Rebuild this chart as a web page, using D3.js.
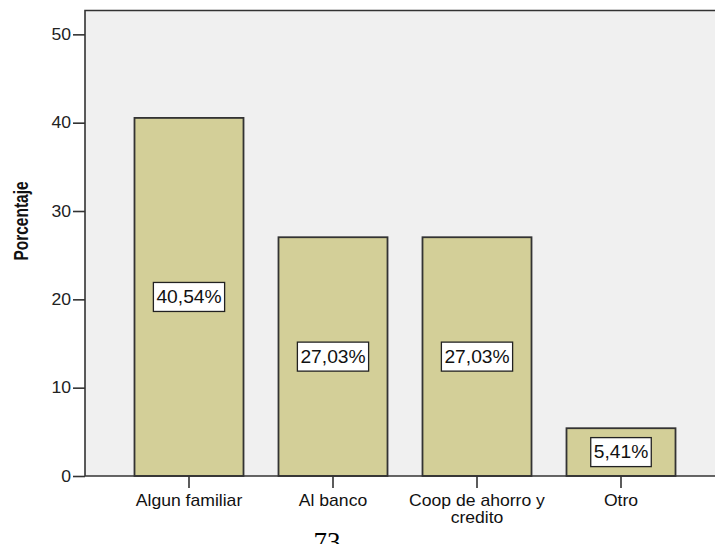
<!DOCTYPE html>
<html>
<head>
<meta charset="utf-8">
<script src="https://cdn.jsdelivr.net/npm/d3@7"></script>
<style>
	body { margin: 0; background: #fff; }
	svg { display: block; }
</style>
</head>
<body>
<div class="chart"></div>
<script>
// bar chart - porcentaje por destino
const categories = ['Algun familiar', 'Al banco', 'Coop de ahorro y credito', 'Otro']
const categoryLines = [['Algun familiar'], ['Al banco'], ['Coop de ahorro y', 'credito'], ['Otro']]
const percentages = [40.54, 27.03, 27.03, 5.41]
const valueLabels = ['40,54%', '27,03%', '27,03%', '5,41%']
const yTicks = [0, 10, 20, 30, 40, 50]

const data = categories.map((c, i) => ({ cat: c, lines: categoryLines[i], value: percentages[i], label: valueLabels[i] }))

const W = 715
const H = 544
const plotLeft = 85
const plotTop = 10.5
const plotBottom = 476
const stretch = 1.1 // the text in the picture is a bit wider than normal

const svg = d3.select('.chart')
	.append('svg')
	.attr('width', W)
	.attr('height', H)

const xScale = d3.scaleBand()
	.domain(categories)
	.range([117, 693])
	.paddingInner(0.243)
	.paddingOuter(0.1215)

const yScale = d3.scaleLinear()
	.domain([0, 52.7])
	.range([plotBottom, plotTop])

// plot background
svg.append('rect')
	.attr('x', plotLeft)
	.attr('y', plotTop)
	.attr('width', W - plotLeft + 10)
	.attr('height', plotBottom - plotTop)
	.attr('fill', '#f0f0f0')

// bars
svg.append('g').selectAll('rect')
	.data(data)
	.enter()
	.append('rect')
	.attr('x', d => xScale(d.cat))
	.attr('y', d => yScale(d.value))
	.attr('width', xScale.bandwidth())
	.attr('height', d => yScale(0) - yScale(d.value))
	.attr('fill', '#d3cf98')
	.attr('stroke', '#333')
	.attr('stroke-width', 1.8)

// frame (left + top)
svg.append('path')
	.attr('d', `M${plotLeft},${plotBottom}V${plotTop}H${W + 5}`)
	.attr('fill', 'none')
	.attr('stroke', '#333')
	.attr('stroke-width', 1.6)

// y axis
const yAxis = d3.axisLeft(yScale)
	.tickValues(yTicks)
	.tickSize(12)
	.tickPadding(3)

const gy = svg.append('g')
	.attr('transform', `translate(${plotLeft},0)`)
	.call(yAxis)
gy.select('.domain').remove()
gy.selectAll('line').attr('stroke', '#333').attr('stroke-width', 1.6)
gy.selectAll('text')
	.attr('x', -14 / stretch)
	.attr('transform', `scale(${stretch},1)`)
	.attr('font-family', 'Liberation Sans, Arial, sans-serif')
	.attr('font-size', '16px')
	.attr('fill', '#222')

// x axis
const xAxis = d3.axisBottom(xScale)
	.tickSize(12)
	.tickFormat('')

const gx = svg.append('g')
	.attr('transform', `translate(0,${plotBottom})`)
	.call(xAxis)
gx.select('.domain').remove()
gx.selectAll('line').attr('stroke', '#333').attr('stroke-width', 1.6)

svg.append('line')
	.attr('x1', plotLeft)
	.attr('x2', W + 5)
	.attr('y1', plotBottom)
	.attr('y2', plotBottom)
	.attr('stroke', '#333')
	.attr('stroke-width', 1.6)

// category labels
gx.selectAll('.tick').each(function (d, i) {
	const t = d3.select(this).append('text')
		.attr('transform', `scale(${stretch},1)`)
		.attr('text-anchor', 'middle')
		.attr('font-family', 'Liberation Sans, Arial, sans-serif')
		.attr('font-size', '16px')
		.attr('fill', '#111')
	data[i].lines.forEach((line, j) => {
		t.append('tspan')
			.attr('x', 0)
			.attr('y', 30 + j * 17)
			.text(line)
	})
})

// value labels in white boxes
const labels = svg.append('g').selectAll('g')
	.data(data)
	.enter()
	.append('g')
	.attr('transform', d => `translate(${xScale(d.cat) + xScale.bandwidth() / 2},${yScale(d.value / 2)})`)

labels.append('rect')
	.attr('fill', '#fff')
	.attr('stroke', '#222')
	.attr('stroke-width', 1.3)

labels.append('text')
	.attr('transform', `scale(${stretch},1)`)
	.attr('text-anchor', 'middle')
	.attr('dy', '0.36em')
	.attr('font-family', 'Liberation Sans, Arial, sans-serif')
	.attr('font-size', '17.5px')
	.attr('fill', '#111')
	.text(d => d.label)

labels.each(function () {
	const g = d3.select(this)
	const w = g.select('text').node().getComputedTextLength() * stretch + 6
	g.select('rect')
		.attr('x', -w / 2)
		.attr('y', -14.5)
		.attr('width', w)
		.attr('height', 29)
})

// y-axis label
svg.append('text')
	.attr('transform', 'translate(28,221) scale(1.3,1) rotate(-90)')
	.attr('text-anchor', 'middle')
	.attr('font-family', 'Liberation Sans, Arial, sans-serif')
	.attr('font-weight', 'bold')
	.attr('font-size', '15.5px')
	.attr('fill', '#111')
	.text('Porcentaje')

// page number, cut off at the bottom edge as in the source page
svg.append('text')
	.attr('x', 327)
	.attr('y', 551)
	.attr('text-anchor', 'middle')
	.attr('font-family', 'Liberation Serif, Times New Roman, serif')
	.attr('font-size', '27px')
	.attr('fill', '#000')
	.text('73')
</script>
</body>
</html>
